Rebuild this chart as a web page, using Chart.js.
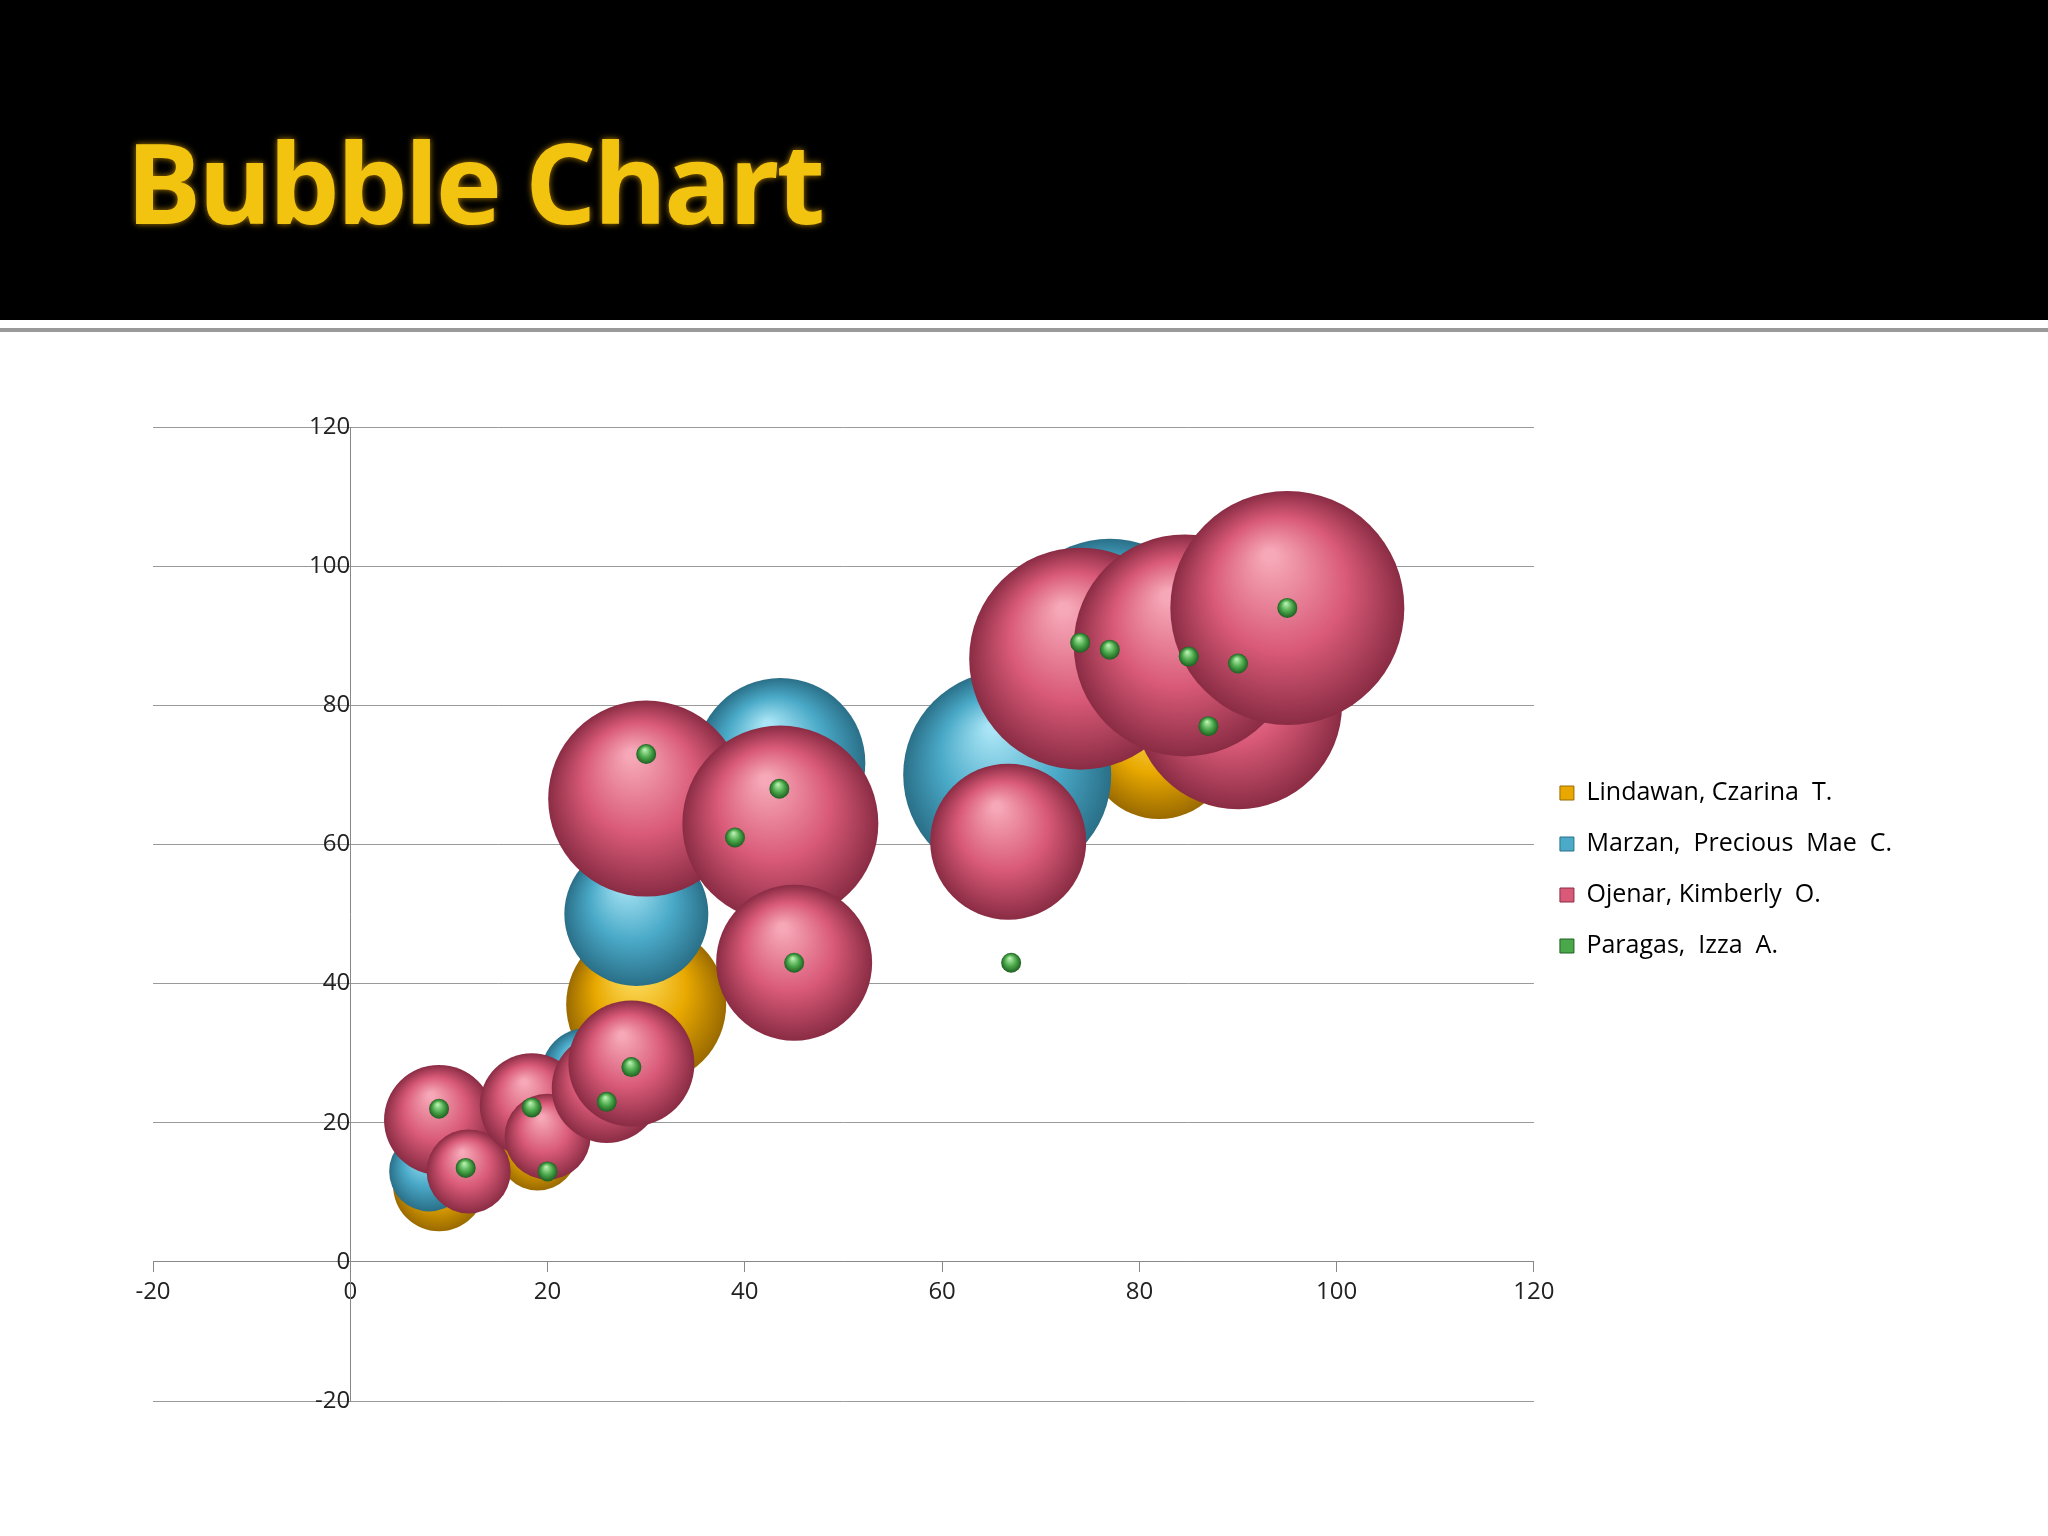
<!DOCTYPE html>
<html><head><meta charset="utf-8">
<script src="https://cdn.jsdelivr.net/npm/chart.js@4"></script>
<style>
body{margin:0;width:2048px;height:1536px;background:#fff;overflow:hidden;font-family:"Open Sans",sans-serif}
#hdr{position:absolute;left:0;top:0;width:2048px;height:320px;background:#000}
#hdr h1{position:absolute;left:126px;top:104px;margin:0;font:bold 112px "Open Sans",sans-serif;color:#f2c40f;letter-spacing:-3px;text-shadow:0 0 6px #b08000}
#rule{position:absolute;left:0;top:328px;width:2048px;height:4px;background:#9a9a9a}
#wrap{position:absolute;left:0;top:310px;width:2048px;height:1226px}
</style></head><body>
<div id="hdr"><h1>Bubble Chart</h1></div><div id="rule"></div>
<div id="wrap"><canvas id="c"></canvas></div>
<script>
const seriesNames=["Lindawan, Czarina  T.","Marzan,  Precious  Mae  C.","Ojenar, Kimberly  O.","Paragas,  Izza  A."];
const lindawanX=[9,19,30,82];const lindawanY=[11,16,37,74];const lindawanR=[46,40,80,72];
const marzanX=[8,24,29,43.6,66.6,77];const marzanY=[13,27,50,71.7,70,89];const marzanR=[40,46,72,85,104,104];
const ojenarX=[9,12,18.4,20,26,28.5,30,43.6,45,66.7,90,74,84.6,95];
const ojenarY=[20.4,13,22.5,18,25,28.5,66.6,63,43,60.4,80,86.7,88.6,94];
const ojenarR=[55,42,52,43,55,63,98,98,78,78,104,111,111,117];
const paragasX=[9,11.7,18.4,20,26,28.5,30,39,43.5,45,67,74,77,85,87,90,95];
const paragasY=[22,13.5,22.2,13,23,28,73,61,68,43,43,89,88,87,77,86,94];
const paragasR=[10,10,10,10,10,10,10,10,10,10,10,10,10,10,10,10,10];
const xTicks=[-20,0,20,40,60,80,100,120];
const yTicks=[-20,0,20,40,60,80,100,120];
const colors=[["#ffe066","#e8a800","#9a6a00"],["#a8e4f5","#4aaac8","#2a6f88"],["#f6a8b8","#d95a78","#8a2c44"],["#b8f0b0","#4aa84a","#1f5f22"]];
function mk(xs,ys,rs){return xs.map((x,i)=>({x:x,y:ys[i],r:rs[i]}));}
function grad(ci){return function(ctx){const c=ctx.chart,a=c.chartArea;const col=colors[ci];if(!a||!ctx.raw)return col[1];
 const px=c.scales.x.getPixelForValue(ctx.raw.x),py=c.scales.y.getPixelForValue(ctx.raw.y),r=ctx.raw.r;
 const g=c.ctx.createRadialGradient(px-r*0.15,py-r*0.45,r*0.05,px,py,r);
 g.addColorStop(0,col[0]);g.addColorStop(0.55,col[1]);g.addColorStop(1,col[2]);return g;}}
const data=[mk(lindawanX,lindawanY,lindawanR),mk(marzanX,marzanY,marzanR),mk(ojenarX,ojenarY,ojenarR),mk(paragasX,paragasY,paragasR)];
const widenLegend={id:'widenLegend',beforeLayout(chart){const lg=chart.legend;if(lg&&!lg._wide){const f=lg.fit;lg.fit=function(){f.call(this);this.width+=86;};lg._wide=true;}}};
new Chart(document.getElementById('c'),{type:'bubble',plugins:[widenLegend],
data:{datasets:data.map((d,i)=>({label:seriesNames[i],data:d,order:3-i,backgroundColor:grad(i),borderWidth:0,hoverRadius:0}))},
options:{responsive:true,maintainAspectRatio:false,animation:false,
layout:{padding:{left:153,top:28,bottom:135,right:60}},
plugins:{tooltip:{enabled:false},legend:{position:'right',labels:{boxWidth:14,boxHeight:14,color:'#111',padding:26,font:{family:'Open Sans',size:25},
 generateLabels:ch=>seriesNames.map((n,i)=>({text:n,fillStyle:colors[i][1],strokeStyle:colors[i][2],lineWidth:1,datasetIndex:i}))}}},
scales:{
x:{type:'linear',min:-20,max:120,position:{y:0},afterBuildTicks:s=>{s.ticks=xTicks.map(v=>({value:v}));},
 grid:{drawOnChartArea:false,color:'#888',tickLength:10},border:{color:'#888'},ticks:{color:'#222',font:{family:'Open Sans',size:24},padding:6}},
y:{type:'linear',min:-20,max:120,position:{x:0},afterBuildTicks:s=>{s.ticks=yTicks.map(v=>({value:v}));},
 grid:{color:'#9a9a9a',tickLength:10},border:{color:'#888'},ticks:{color:'#222',font:{family:'Open Sans',size:24},padding:2}}
}}});
</script></body></html>
